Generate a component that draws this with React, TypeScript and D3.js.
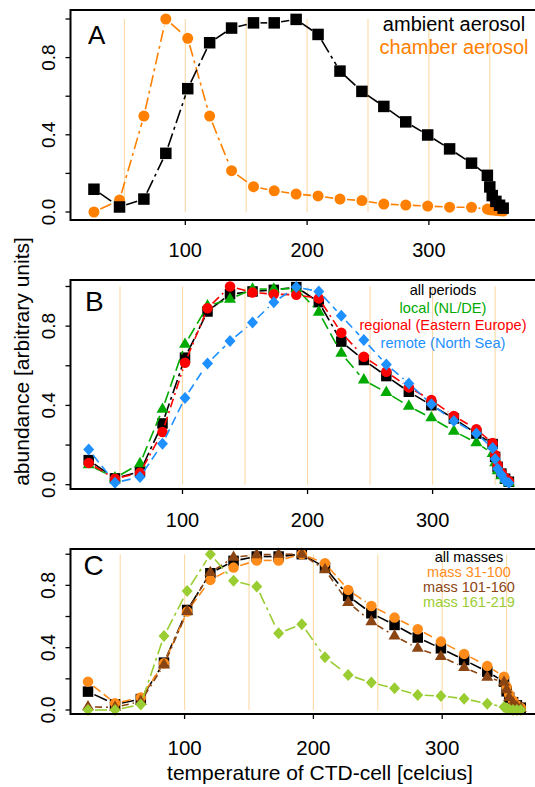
import React from 'react';
import * as d3 from 'd3';

// ---------- data ----------
const temps = [25, 46, 66, 84, 102, 120, 138, 156, 173, 191, 209, 227, 245, 263, 281, 299, 317, 335, 348, 350, 352, 355, 358, 361];

// Panel A
const ambientAerosol = [0.118, 0.026, 0.067, 0.304, 0.639, 0.877, 0.953, 0.98, 0.98, 0.998, 0.92, 0.73, 0.625, 0.547, 0.467, 0.399, 0.327, 0.253, 0.19, 0.13, 0.085, 0.055, 0.035, 0.02];
const chamberAerosol = [0.0, 0.062, 0.497, 1.0, 0.9, 0.497, 0.214, 0.131, 0.11, 0.093, 0.083, 0.067, 0.059, 0.041, 0.036, 0.031, 0.025, 0.024, 0.015, 0.012, 0.01, 0.008, 0.006, 0.005];

// Panel B
const allPeriods = [0.124, 0.032, 0.065, 0.309, 0.641, 0.874, 0.961, 0.975, 0.983, 0.997, 0.921, 0.722, 0.629, 0.548, 0.469, 0.401, 0.334, 0.258, 0.205, 0.14, 0.09, 0.056, 0.03, 0.015];
const localNLDE = [0.1, 0.034, 0.106, 0.38, 0.708, 0.902, 0.936, 0.987, 0.987, 0.99, 0.87, 0.663, 0.528, 0.465, 0.396, 0.337, 0.27, 0.212, 0.157, 0.11, 0.07, 0.045, 0.025, 0.01];
const regionalEE = [0.11, 0.03, 0.06, 0.266, 0.615, 0.89, 1.0, 0.97, 0.961, 0.958, 0.94, 0.767, 0.646, 0.57, 0.491, 0.427, 0.347, 0.28, 0.21, 0.15, 0.1, 0.06, 0.035, 0.018];
const remoteNS = [0.177, 0.01, 0.039, 0.207, 0.438, 0.612, 0.725, 0.818, 0.921, 0.997, 0.975, 0.852, 0.73, 0.607, 0.511, 0.406, 0.322, 0.258, 0.185, 0.13, 0.08, 0.05, 0.02, 0.008];

// Panel C
const allMasses = [0.118, 0.036, 0.07, 0.304, 0.642, 0.878, 0.957, 0.985, 0.985, 1.0, 0.916, 0.732, 0.621, 0.546, 0.465, 0.396, 0.321, 0.246, 0.182, 0.12, 0.08, 0.05, 0.03, 0.015];
const mass31to100 = [0.182, 0.043, 0.081, 0.3, 0.632, 0.835, 0.914, 0.96, 0.96, 1.0, 0.942, 0.771, 0.668, 0.593, 0.518, 0.439, 0.36, 0.283, 0.214, 0.15, 0.1, 0.06, 0.03, 0.015];
const mass101to160 = [0.02, 0.017, 0.055, 0.289, 0.632, 0.882, 0.98, 0.996, 1.0, 1.0, 0.9, 0.69, 0.567, 0.475, 0.396, 0.343, 0.272, 0.21, 0.178, 0.13, 0.08, 0.045, 0.02, 0.01];
const mass161to219 = [0.0, 0.0, 0.036, 0.475, 0.764, 1.0, 0.829, 0.792, 0.492, 0.55, 0.338, 0.225, 0.176, 0.139, 0.096, 0.09, 0.073, 0.04, 0.02, 0.01, 0.005, 0.0, 0.0, 0.0];

const yTicks = [0, 0.2, 0.4, 0.6, 0.8, 1.0];
const yTickLabels = ['0.0', '', '0.4', '', '0.8', ''];
const xTicks = [100, 200, 300];
const guideTemps = [50, 100, 150, 200, 250, 300, 350];

// ---------- styling ----------
const FONT = "'Liberation Sans', Arial, Helvetica, sans-serif";
const GUIDE = '#FDD9A6';

type Shape = 'square' | 'circle' | 'triangle' | 'diamond';
interface Series { values: number[]; color: string; shape: Shape; dash: string; size: number }
interface PanelCfg {
  letter: string; letterX: number; letterY: number; letterSize: number;
  top: number; bottom: number; y0px: number; y1px: number;
  x100: number; x300: number;
  series: Series[];
  legend: { text: string; color: string }[];
  legendX: number; legendY: number; legendDy: number; legendSize: number;
  tickLabelY: number; tickSize: number;
}

const panels: PanelCfg[] = [
  {
    letter: 'A', letterX: 88, letterY: 43.5, letterSize: 26,
    top: 10, bottom: 220, y0px: 212, y1px: 19, x100: 185.3, x300: 428.9,
    series: [
      { values: chamberAerosol, color: '#FF8000', shape: 'circle', dash: '12,4,3,4', size: 11 },
      { values: ambientAerosol, color: '#000000', shape: 'square', dash: '14,4,3,4', size: 11.5 },
    ],
    legend: [
      { text: 'ambient aerosol', color: '#000000' },
      { text: 'chamber aerosol', color: '#FF8000' },
    ],
    legendX: 454, legendY: 31, legendDy: 22.5, legendSize: 20,
    tickLabelY: 257, tickSize: 19,
  },
  {
    letter: 'B', letterX: 85, letterY: 311, letterSize: 28,
    top: 280, bottom: 489, y0px: 484.7, y1px: 286.5, x100: 182.5, x300: 432.6,
    series: [
      { values: allPeriods, color: '#000000', shape: 'square', dash: '14,4,3,4', size: 10.5 },
      { values: localNLDE, color: '#00AA00', shape: 'triangle', dash: '12,5', size: 12 },
      { values: regionalEE, color: '#FF0000', shape: 'circle', dash: '9,4,2,4', size: 10.5 },
      { values: remoteNS, color: '#1E90FF', shape: 'diamond', dash: '9,5', size: 12 },
    ],
    legend: [
      { text: 'all periods', color: '#000000' },
      { text: 'local (NL/DE)', color: '#00AA00' },
      { text: 'regional (Eastern Europe)', color: '#FF0000' },
      { text: 'remote (North Sea)', color: '#1E90FF' },
    ],
    legendX: 443, legendY: 295, legendDy: 17.5, legendSize: 14.6,
    tickLabelY: 527, tickSize: 19,
  },
  {
    letter: 'C', letterX: 83.5, letterY: 575, letterSize: 28,
    top: 549, bottom: 714, y0px: 710, y1px: 554.2, x100: 184.6, x300: 442.2,
    series: [
      { values: allMasses, color: '#000000', shape: 'square', dash: '14,4,3,4', size: 10.5 },
      { values: mass31to100, color: '#FF8C1A', shape: 'circle', dash: '9,4', size: 10.5 },
      { values: mass101to160, color: '#8B4513', shape: 'triangle', dash: '7,4,2,4', size: 12 },
      { values: mass161to219, color: '#9ACD32', shape: 'diamond', dash: '12,4,3,4', size: 12 },
    ],
    legend: [
      { text: 'all masses', color: '#000000' },
      { text: 'mass 31-100', color: '#FF8C1A' },
      { text: 'mass 101-160', color: '#8B4513' },
      { text: 'mass 161-219', color: '#9ACD32' },
    ],
    legendX: 469, legendY: 561.5, legendDy: 15, legendSize: 14.5,
    tickLabelY: 755, tickSize: 19.5,
  },
];

const BOX_LEFT = 70.5;
const BOX_RIGHT = 560;

function marker(shape: Shape, size: number): string {
  if (shape === 'square') return d3.symbol(d3.symbolSquare, size * size)() as string;
  if (shape === 'circle') return d3.symbol(d3.symbolCircle, Math.PI * (size / 2) * (size / 2))() as string;
  if (shape === 'triangle') return d3.symbol(d3.symbolTriangle, (Math.sqrt(3) / 4) * size * size)() as string;
  const w = size / 2 - 0.5, h = size / 2;
  return `M0,${-h}L${w},0L0,${h}L${-w},0Z`;
}

function PanelView({ cfg }: { cfg: PanelCfg }) {
  const x = d3.scaleLinear().domain([100, 300]).range([cfg.x100, cfg.x300]);
  const y = d3.scaleLinear().domain([0, 1]).range([cfg.y0px, cfg.y1px]);
  const gap = 7;
  return (
    <g>
      {guideTemps.map((t) => (
        <line key={'g' + t} x1={x(t)} x2={x(t)} y1={y(0)} y2={y(1)} stroke={GUIDE} strokeWidth={1.1} />
      ))}
      {cfg.series.map((s, si) => {
        const pts = temps.map((t, i) => [x(t), y(s.values[i])] as [number, number]);
        const segs: JSX.Element[] = [];
        for (let i = 0; i < pts.length - 1; i++) {
          const [ax, ay] = pts[i];
          const [bx, by] = pts[i + 1];
          const dx = bx - ax, dy = by - ay;
          const len = Math.hypot(dx, dy);
          if (len <= 2 * gap + 1) continue;
          const ux = dx / len, uy = dy / len;
          segs.push(
            <line key={i} x1={ax + ux * gap} y1={ay + uy * gap} x2={bx - ux * gap} y2={by - uy * gap}
              stroke={s.color} strokeWidth={1.6} strokeDasharray={s.dash} />
          );
        }
        const d = marker(s.shape, s.size);
        return (
          <g key={'s' + si}>
            {segs}
            {pts.map(([px, py], i) => (
              <path key={'m' + i} d={d} transform={`translate(${px},${py})`} fill={s.color} />
            ))}
          </g>
        );
      })}
      <rect x={BOX_LEFT} y={cfg.top} width={BOX_RIGHT - BOX_LEFT} height={cfg.bottom - cfg.top}
        fill="none" stroke="#000" strokeWidth={2} />
      {yTicks.map((v, i) => (
        <g key={'yt' + i}>
          <line x1={BOX_LEFT - 5} x2={BOX_LEFT} y1={y(v)} y2={y(v)} stroke="#000" strokeWidth={1.3} />
          {yTickLabels[i] && (
            <text transform={`translate(54.5,${y(v)}) rotate(-90)`} textAnchor="middle"
              fontFamily={FONT} fontSize={cfg.tickSize} fill="#000">{yTickLabels[i]}</text>
          )}
        </g>
      ))}
      {xTicks.map((t) => (
        <g key={'xt' + t}>
          <line x1={x(t)} x2={x(t)} y1={cfg.bottom} y2={cfg.bottom + 5} stroke="#000" strokeWidth={1.3} />
          <text x={x(t)} y={cfg.tickLabelY} textAnchor="middle" fontFamily={FONT} fontSize={cfg.tickSize + 1} fill="#000">{t}</text>
        </g>
      ))}
      <text x={cfg.letterX} y={cfg.letterY} fontFamily={FONT} fontSize={cfg.letterSize} fill="#000">{cfg.letter}</text>
      {cfg.legend.map((l, i) => (
        <text key={'l' + i} x={cfg.legendX} y={cfg.legendY + i * cfg.legendDy} textAnchor="middle"
          fontFamily={FONT} fontSize={cfg.legendSize} fill={l.color}>{l.text}</text>
      ))}
    </g>
  );
}

export default function App() {
  return (
    <svg width={535} height={787} style={{ position: 'absolute', left: 0, top: 0, background: '#fff' }}>
      <rect x={0} y={0} width={535} height={787} fill="#fff" />
      {panels.map((p) => <PanelView key={p.letter} cfg={p} />)}
      <text transform="translate(29,361.5) rotate(-90)" textAnchor="middle" fontFamily={FONT} fontSize={21} fill="#000">
        abundance [arbitrary units]
      </text>
      <text x={320} y={780} textAnchor="middle" fontFamily={FONT} fontSize={21} fill="#000">
        temperature of CTD-cell [celcius]
      </text>
    </svg>
  );
}
